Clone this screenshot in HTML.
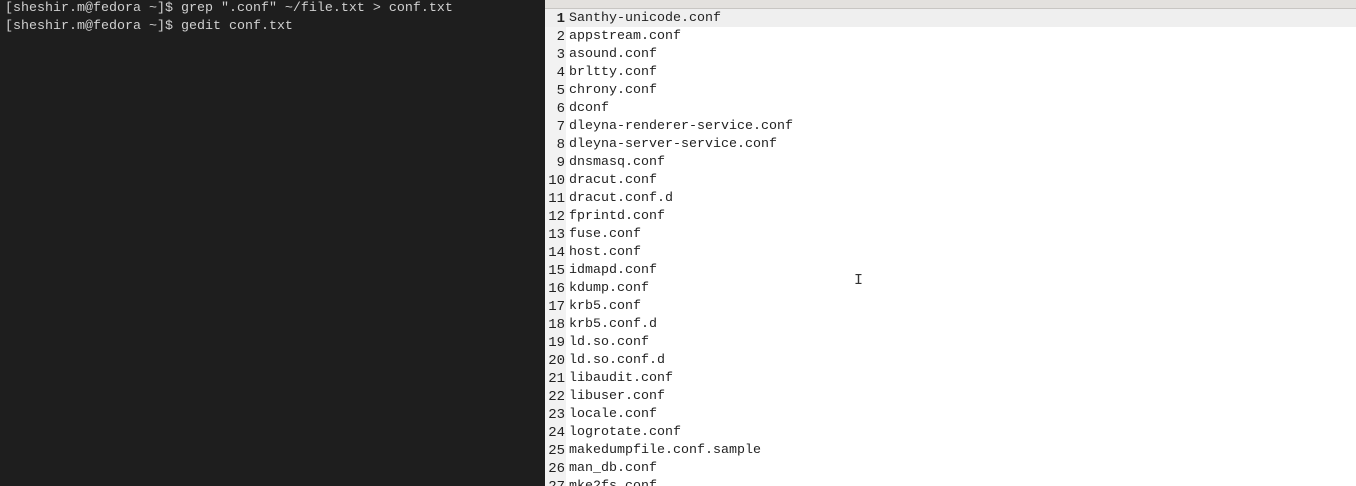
<!DOCTYPE html>
<html><head><meta charset="utf-8"><style>
html,body{margin:0;width:1356px;height:486px;overflow:hidden}
body{background:#1e1e1e;position:relative;font-family:"Liberation Mono",monospace;font-size:13.33px}
.term{position:absolute;left:5px;top:0px;color:#d0d0d0;line-height:18px;white-space:pre}
.ed{position:absolute;left:545px;top:0;width:811px;height:486px;background:#fff;overflow:hidden}
.hdr{position:absolute;left:0;top:0;width:811px;height:8px;background:#e3e1de;border-bottom:1px solid #c8c6c3}
.gut{position:absolute;left:0;top:9px;width:21px;height:477px;background:#f2f2f2}
.cur{position:absolute;left:0;top:9px;width:811px;height:18px;background:#efefef}
.ln{position:absolute;left:0;top:10px;width:20px;text-align:right;line-height:18px;color:#222;white-space:pre;font-size:14px}
.tx{position:absolute;left:24px;top:10px;line-height:18px;color:#222;white-space:pre}
</style></head><body>
<div class="term">[sheshir.m@fedora ~]$ grep ".conf" ~/file.txt > conf.txt
[sheshir.m@fedora ~]$ gedit conf.txt</div>
<div class="ed">
<div class="hdr"></div>
<div class="gut"></div>
<div class="cur"></div>
<div class="ln"><b>1</b>
2
3
4
5
6
7
8
9
10
11
12
13
14
15
16
17
18
19
20
21
22
23
24
25
26
27</div>
<div class="tx">Santhy-unicode.conf
appstream.conf
asound.conf
brltty.conf
chrony.conf
dconf
dleyna-renderer-service.conf
dleyna-server-service.conf
dnsmasq.conf
dracut.conf
dracut.conf.d
fprintd.conf
fuse.conf
host.conf
idmapd.conf
kdump.conf
krb5.conf
krb5.conf.d
ld.so.conf
ld.so.conf.d
libaudit.conf
libuser.conf
locale.conf
logrotate.conf
makedumpfile.conf.sample
man_db.conf
mke2fs.conf</div>
<div style="position:absolute;left:309px;top:272px;color:#333;font-size:15px">I</div>
</div>
</body></html>
